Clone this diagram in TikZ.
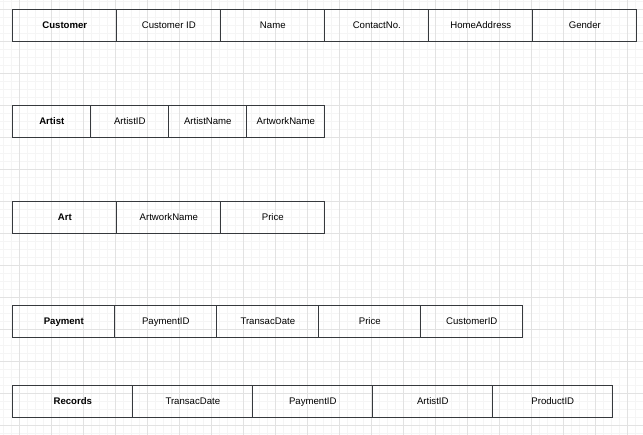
\documentclass[tikz,border=0pt]{standalone}
\usepackage{fontspec}
\setmainfont{Liberation Sans}
\definecolor{linecol}{HTML}{36393D}
\definecolor{minorgrid}{HTML}{F5F5F5}
\definecolor{majorgrid}{HTML}{E2E2E2}
\tikzset{
  cell/.style={draw=linecol, line width=1pt, minimum height=32pt, inner sep=0pt,
    text height=7pt, text depth=2pt,
    anchor=north west, font=\fontsize{9.6pt}{11pt}\selectfont, text=black},
  head/.style={cell, font=\fontsize{9.6pt}{11pt}\selectfont\bfseries},
  minorline/.style={draw=minorgrid, line width=0.8pt},
  majorline/.style={draw=majorgrid, line width=0.9pt}
}
\begin{document}
\begin{tikzpicture}[x=1pt,y=-1pt]
\useasboundingbox (0,0) rectangle (643,435);
\fill[white] (0,0) rectangle (643,435);
% grid
\foreach \i in {0,...,80} {
  \draw[minorline] ({3.5+8*\i},0) -- ({3.5+8*\i},435);
}
\foreach \i in {0,...,55} {
  \draw[minorline] (0,{1.3+8*\i}) -- (643,{1.3+8*\i});
}
\foreach \i in {0,...,20} {
  \draw[majorline] ({19.5+32*\i},0) -- ({19.5+32*\i},435);
}
\foreach \i in {0,...,13} {
  \draw[majorline] (0,{9.3+32*\i}) -- (643,{9.3+32*\i});
}
% Customer
\node[head, minimum width=104pt] (cust) at (12.3,9.3) {Customer};
\node[cell, minimum width=104pt] (custid) at (116.3,9.3) {Customer ID};
\node[cell, minimum width=104pt] (custname) at (220.3,9.3) {Name};
\node[cell, minimum width=104pt] (custcontact) at (324.3,9.3) {ContactNo.};
\node[cell, minimum width=104pt] (custaddr) at (428.3,9.3) {HomeAddress};
\node[cell, minimum width=104pt] (custgender) at (532.3,9.3) {Gender};
% Artist
\node[head, minimum width=78pt] (artist) at (12.3,105.3) {Artist};
\node[cell, minimum width=78pt] (artistid) at (90.3,105.3) {ArtistID};
\node[cell, minimum width=78pt] (artistname) at (168.3,105.3) {ArtistName};
\node[cell, minimum width=78pt] (artistwork) at (246.3,105.3) {ArtworkName};
% Art
\node[head, minimum width=104pt] (art) at (12.3,201.3) {Art};
\node[cell, minimum width=104pt] (artname) at (116.3,201.3) {ArtworkName};
\node[cell, minimum width=104pt] (artprice) at (220.3,201.3) {Price};
% Payment
\node[head, minimum width=102pt] (pay) at (12.3,305.3) {Payment};
\node[cell, minimum width=102pt] (payid) at (114.3,305.3) {PaymentID};
\node[cell, minimum width=102pt] (paydate) at (216.3,305.3) {TransacDate};
\node[cell, minimum width=102pt] (payprice) at (318.3,305.3) {Price};
\node[cell, minimum width=102pt] (paycust) at (420.3,305.3) {CustomerID};
% Records
\node[head, minimum width=120pt] (rec) at (12.3,385.3) {Records};
\node[cell, minimum width=120pt] (recdate) at (132.3,385.3) {TransacDate};
\node[cell, minimum width=120pt] (recpay) at (252.3,385.3) {PaymentID};
\node[cell, minimum width=120pt] (recartist) at (372.3,385.3) {ArtistID};
\node[cell, minimum width=120pt] (recprod) at (492.3,385.3) {ProductID};
\end{tikzpicture}
\end{document}
